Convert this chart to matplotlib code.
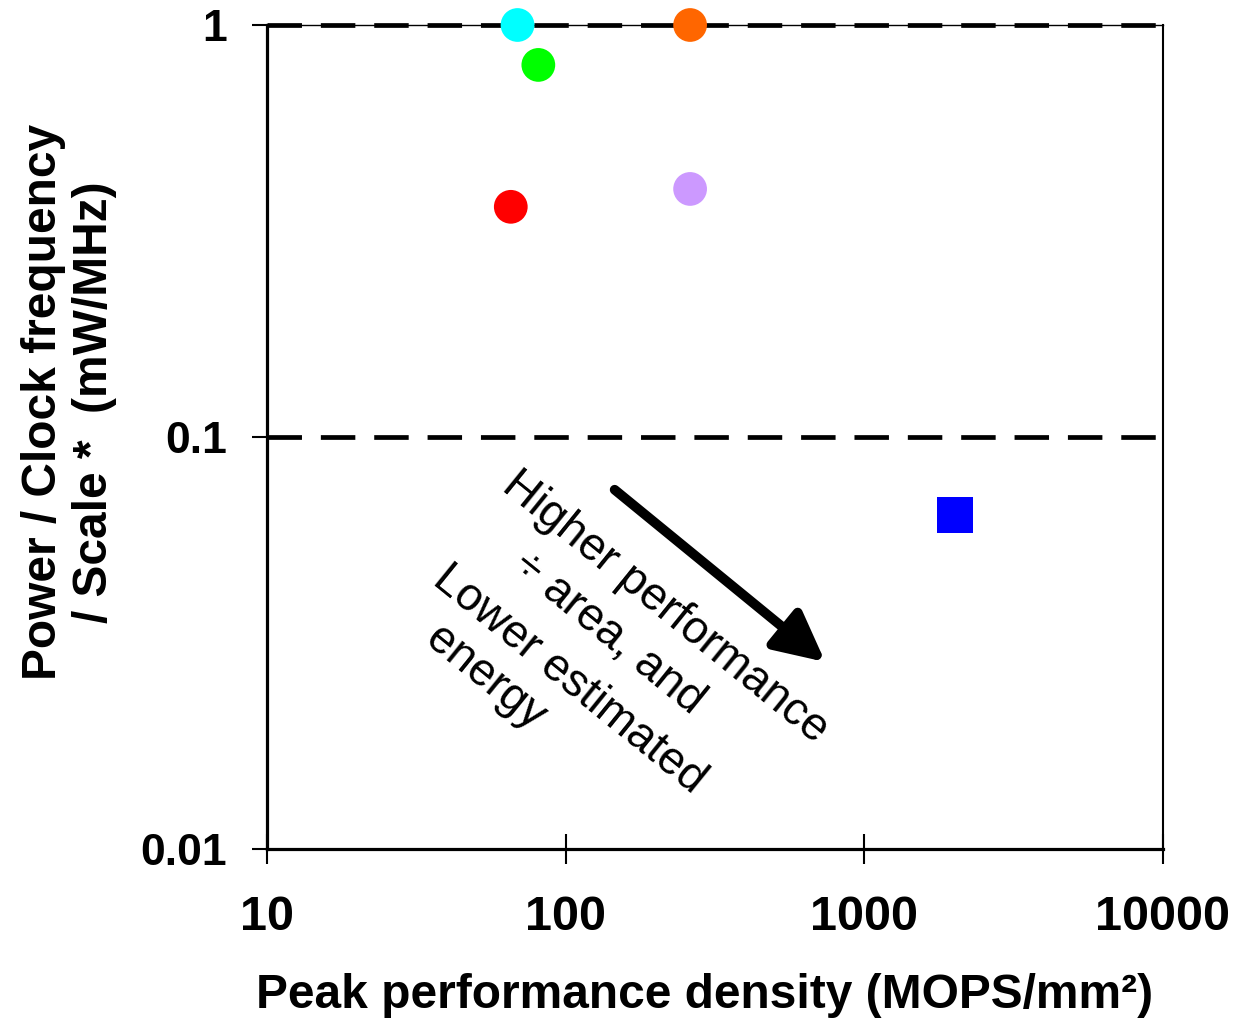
import matplotlib
matplotlib.use("Agg")
import matplotlib.pyplot as plt
from matplotlib import font_manager

# data (log-log)
perf_density = [69, 261, 81, 65.5, 261]        # MOPS/mm2
power_per_mhz = [1.0, 1.0, 0.80, 0.362, 0.40]  # mW/MHz
point_colors = ["#00FFFF", "#FF6600", "#00FF00", "#FF0000", "#CC99FF"]

square_x = [2010]
square_y = [0.0645]
square_color = "#0000FF"

ref_lines = [1.0, 0.1]
x_ticks = [10, 100, 1000, 10000]
y_ticks = [0.01, 0.1, 1]
y_tick_labels = ["0.01", "0.1", "1"]

names = {f.name for f in font_manager.fontManager.ttflist}
narrow = "Liberation Sans Narrow" if "Liberation Sans Narrow" in names else "Liberation Sans"
wide = "Liberation Sans"

fig = plt.figure(figsize=(12.33, 10.21), dpi=100)
ax = fig.add_axes([267/1233, 1-849/1021, 896/1233, 824/1021])

ax.set_xscale("log")
ax.set_yscale("log")
ax.set_xlim(10, 10000)
ax.set_ylim(0.01, 1)

for y in ref_lines:
    ax.axhline(y, color="black", lw=3.4, dashes=(7.3, 4.0), zorder=2.6, clip_on=False)

ax.scatter(perf_density, power_per_mhz, s=590, c=point_colors, marker="o",
           linewidths=0, zorder=3, clip_on=False)
ax.scatter(square_x, square_y, s=690, c=square_color, marker="s",
           linewidths=0, zorder=3)

ax.set_xticks(x_ticks)
ax.set_xticklabels([str(t) for t in x_ticks], fontfamily=narrow,
                   fontweight="bold", fontsize=35)
ax.set_yticks(y_ticks)
ax.set_yticklabels(y_tick_labels, fontfamily=wide, fontweight="bold", fontsize=32)
ax.minorticks_off()
ax.tick_params(axis="x", direction="inout", length=22, width=1.5, pad=22)
ax.tick_params(axis="y", direction="out", length=11, width=1.5, pad=18)

for side in ["left", "bottom"]:
    ax.spines[side].set_linewidth(2.3)
ax.spines["top"].set_linewidth(1.0)
ax.spines["right"].set_linewidth(1.5)

ax.set_xlabel("Peak performance density (MOPS/mm²)", fontfamily=narrow,
              fontweight="bold", fontsize=34.5, labelpad=24)
ax.xaxis.label.set_x(0.488)
fig.text(0.056, 1-402/1021, "Power / Clock frequency\n/ Scale *  (mW/MHz)",
         rotation=90, ha="center", va="center", multialignment="center",
         fontfamily=narrow, fontweight="bold", fontsize=34.5, linespacing=1.15)

# arrow and rotated note
ax.annotate("", xy=(0.623, 0.227), xytext=(0.388, 0.436),
            xycoords="axes fraction", textcoords="axes fraction",
            arrowprops=dict(arrowstyle="-|>,head_length=0.6,head_width=0.3",
                            lw=7, color="black", mutation_scale=50,
                            shrinkA=0, shrinkB=0))
note_lines = ["Higher performance", "÷ area, and", "Lower estimated", "energy"]
note_pos = [(0.444, 0.293), (0.381, 0.262), (0.337, 0.206), (0.244, 0.208)]
for txt, (px, py) in zip(note_lines, note_pos):
    ax.text(px, py, txt, transform=ax.transAxes, rotation=-39,
            rotation_mode="anchor", ha="center", va="center",
            fontfamily=wide, fontsize=33)

fig.savefig("out.png", dpi=100)
